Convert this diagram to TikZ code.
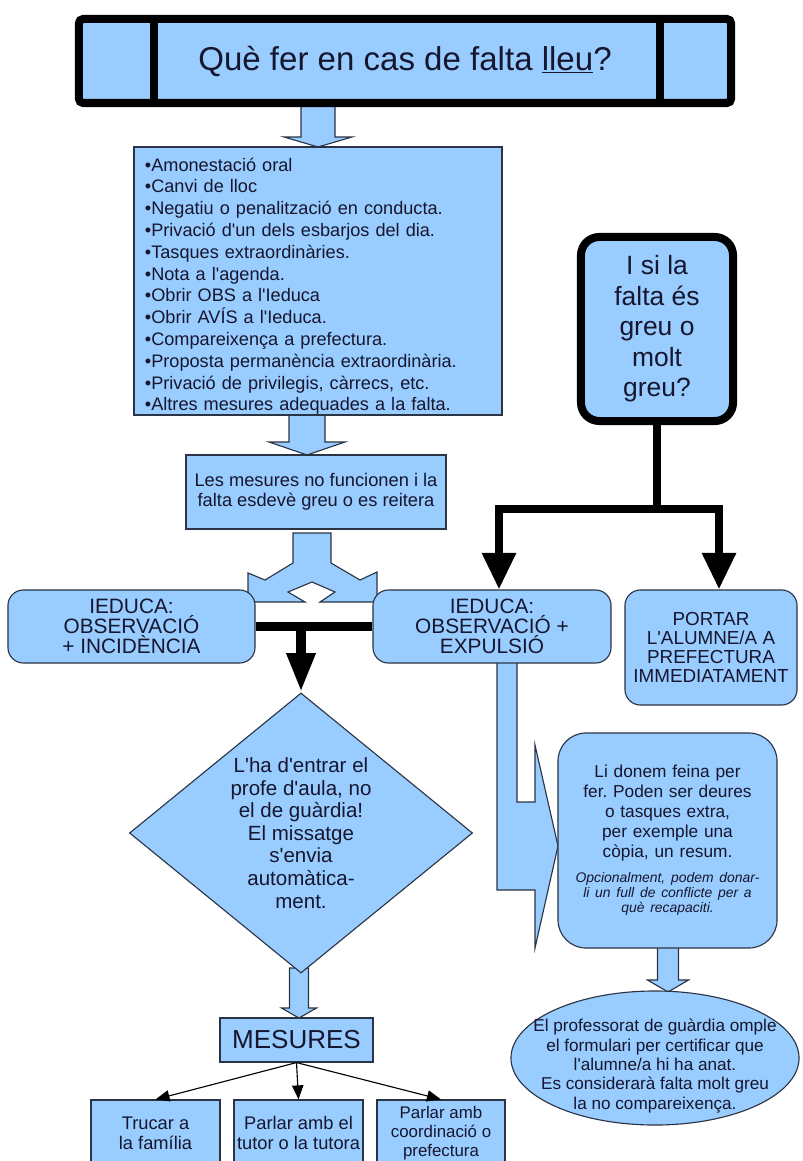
\documentclass[tikz,border=0pt]{standalone}
\usepackage{fontspec}
\newfontfamily\chartfont{Liberation Sans}
\usetikzlibrary{arrows.meta,calc,positioning,shapes.geometric}

\definecolor{skyfill}{HTML}{99CCFF}
\definecolor{edgec}{HTML}{2B3445}
\definecolor{inkc}{HTML}{16162E}

\newcommand{\fsz}[2]{\chartfont\fontsize{#1pt}{#2pt}\selectfont}

\tikzset{
  panel/.style={draw=edgec, fill=skyfill, line width=0.8pt, inner sep=0pt, align=center},
  roundpanel/.style={panel, rounded corners=#1},
  heavy/.style={black, line width=5.7pt},
  heavyarrow/.style={heavy, -{Triangle[length=26pt,width=23pt]}},
  blockshape/.style={draw=edgec, fill=skyfill, line width=0.8pt},
  thinarrow/.style={black, line width=0.8pt, -{Triangle[length=10pt,width=8pt]}},
}

\begin{document}
\frenchspacing
\begin{tikzpicture}[x=0.025cm,y=-0.025cm,font=\chartfont,text=inkc]
% one unit is one pixel of the 802 x 1161 sheet, y running down
\useasboundingbox (0,0) rectangle (802,1161);
\clip (0,0) rectangle (802,1161);

\newcommand{\downblk}[6]{% x, top, head top, tip, half shaft, half head
  \draw[blockshape] ({#1-#5},#2) -- ({#1+#5},#2) -- ({#1+#5},#3) -- ({#1+#6},#3)
    -- (#1,#4) -- ({#1-#6},#3) -- ({#1-#5},#3) -- cycle;}

% block arrows, drawn first so the boxes sit on top of their ends
\downblk{318}{105}{137}{147}{17}{34}
\downblk{307}{414}{442}{455}{18}{38}
\downblk{299}{968}{1008}{1018}{9.5}{17.5}
\downblk{668}{946}{980}{992}{10.5}{20.5}

% split arrow: both flares run in under the two IEDUCA boxes
\draw[blockshape] (293,533) -- (331,533) -- (331,563) -- (360,580) -- (377,572)
  -- (377,602) -- (320,602) -- (335,592) -- (312,582) -- (288,592) -- (305,602)
  -- (248,602) -- (248,573) -- (265,580) -- (293,563) -- cycle;

% bent arrow from the expulsion box over to the task box
\draw[blockshape] (497,660) -- (517,660) -- (517,802) -- (535,802) -- (535,745)
  -- (558,846) -- (535,948) -- (535,890) -- (497,890) -- cycle;

% header
\node[panel, draw=black, line width=5.7pt, rounded corners=3pt,
      minimum width=16.3cm, minimum height=2.1cm, font=\fsz{23.5}{28}] (title) at (405,61)
  {Què fer en cas de falta \underline{lleu}?};
\draw[heavy] ($(title.north west)+(79,0)$) -- ($(title.south west)+(79,0)$);
\draw[heavy] ($(title.north east)-(75,0)$) -- ($(title.south east)-(75,0)$);

\node[panel, minimum width=9.2cm, minimum height=6.7cm, text width=8.65cm, align=left,
      font=\fsz{12.9}{15.5}] (list) at (318,281)
  {\rule{0pt}{17pt}•Amonestació oral\\
   •Canvi de lloc\\
   •Negatiu o penalització en conducta.\\
   •Privació d'un dels esbarjos del dia.\\
   •Tasques extraordinàries.\\
   •Nota a l'agenda.\\
   •Obrir OBS a l'Ieduca\\
   •Obrir AVÍS a l'Ieduca.\\
   •Compareixença a prefectura.\\
   •Proposta permanència extraordinària.\\
   •Privació de privilegis, càrrecs, etc.\\
   •Altres mesures adequades a la falta.};

\node[panel, minimum width=6.5cm, minimum height=1.85cm, font=\fsz{13}{14.2}] (worse) at (316,492)
  {Les mesures no funcionen i la\\falta esdevè greu o es reitera};

\node[panel, draw=black, line width=5.7pt, rounded corners=13pt,
      minimum width=3.8cm, minimum height=4.6cm, font=\fsz{18.8}{21.7}] (isi) at (657,329)
  {I si la\\falta és\\greu o\\molt\\greu?};

% second row
\node[roundpanel=11pt, minimum width=6.175cm, minimum height=1.825cm,
      font=\fsz{14.8}{14.2}] (obsinc) at (131.5,626.5)
  {IEDUCA:\\OBSERVACIÓ\\+ INCIDÈNCIA};
\node[roundpanel=11pt, minimum width=5.95cm, minimum height=1.825cm,
      font=\fsz{14.8}{14.2}] (obsexp) at (492,626.5)
  {IEDUCA:\\OBSERVACIÓ +\\EXPULSIÓ};
\node[roundpanel=11pt, minimum width=4.3cm, minimum height=2.875cm,
      font=\fsz{13.4}{13.5}] (bring) at (711,647.5)
  {PORTAR\\L'ALUMNE/A A\\PREFECTURA\\IMMEDIATAMENT};

% left branch
\node[panel, diamond, minimum width=8.575cm, minimum height=7cm] (warn) at (301,833) {};
\node[font=\fsz{14.6}{16.1}, align=center] (warntext) at (warn.center)
  {L'ha d'entrar el\\profe d'aula, no\\el de guàrdia!\\El missatge\\s'envia\\automàtica-\\ment.};

\node[panel, minimum width=3.825cm, minimum height=1.1cm, font=\fsz{18.5}{22}] (mesures) at (296.5,1040)
  {MESURES};
\node[panel, minimum width=3.225cm, minimum height=1.65cm, font=\fsz{13}{14.2}] (family) at (155.5,1133)
  {Trucar a\\la família};
\node[panel, minimum width=3.225cm, minimum height=1.65cm, font=\fsz{13}{14.2}] (tutor) at (298.5,1133)
  {Parlar amb el\\tutor o la tutora};
\node[panel, minimum width=3.2cm, minimum height=1.65cm, font=\fsz{12}{13.5}] (coord) at (441,1133)
  {Parlar amb\\coordinació o\\prefectura};

% right branch
\node[roundpanel=20pt, minimum width=5.475cm, minimum height=5.375cm, text width=5cm,
      font=\fsz{12.3}{14.2}] (task) at (667.5,840.5)
  {Li donem feina per\\fer. Poden ser deures\\o tasques extra,\\per exemple una\\còpia, un resum.\par
   \vspace{7pt}
   {\itshape\fsz{9.9}{10.7}\itshape Opcionalment, podem donar-\\li un full de conflicte per a\\què recapaciti.\par}};

\node[panel, ellipse, minimum width=7.2cm, minimum height=3.35cm] (guard) at (655,1058) {};
\node[font=\fsz{12.2}{13.8}, align=center] (guardtext) at (655,1066)
  {El professorat de guàrdia omple\\el formulari per certificar que\\l'alumne/a hi ha anat.\\Es considerarà falta molt greu\\la no compareixença.};

% heavy connectors
\coordinate (tjoin) at (657,509);
\draw[heavy] (isi.south) -- (tjoin);
\draw[heavyarrow] (tjoin) -| ($(obsexp.north)+(7,0)$);
\draw[heavyarrow] (tjoin) -| ($(bring.north)+(8,0)$);

\draw[heavy, line width=7pt] (obsinc.east) -- (obsexp.west);
\coordinate (fork) at (warn.north |- obsinc.east);
\draw[heavy, line width=7pt, -{Triangle[length=28pt,width=19pt]}] (fork) -- (warn.north);

% thin arrows to the three measures
\draw[thinarrow] (mesures.south) -- (family.north);
\draw[thinarrow] (mesures.south) -- (tutor.north);
\draw[thinarrow] (mesures.south) -- (coord.north);
\end{tikzpicture}
\end{document}
